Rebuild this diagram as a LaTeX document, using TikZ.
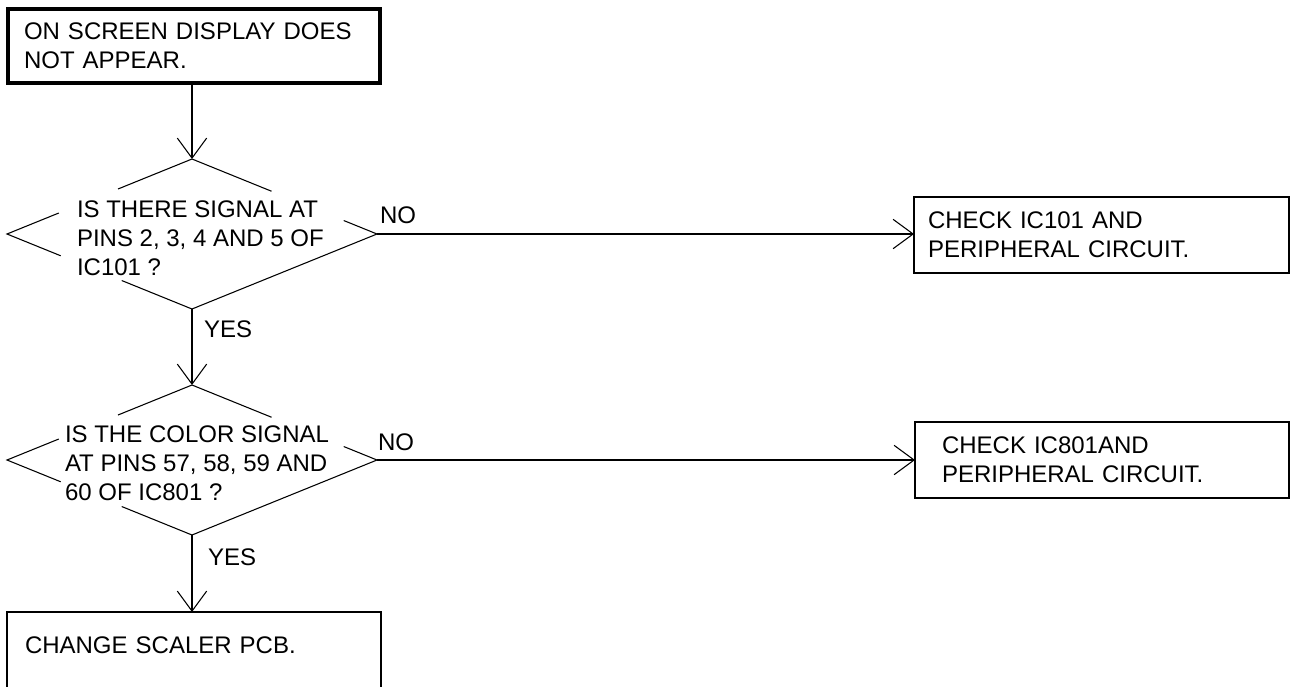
\documentclass[tikz,border=0pt]{standalone}
\usepackage{fontspec}
\setmainfont{Liberation Sans}
\usetikzlibrary{shapes.geometric,arrows.meta,calc}
\def\gapdiamond#1{\draw (#1.north) -- ($(#1.north)!.40!(#1.west)$)
  ($(#1.north)!.72!(#1.west)$) -- (#1.west) -- ($(#1.west)!.29!(#1.south)$)
  ($(#1.west)!.62!(#1.south)$) -- (#1.south) -- (#1.east) -- ($(#1.east)!.18!(#1.north)$)
  ($(#1.east)!.57!(#1.north)$) -- (#1.north);}

\begin{document}
\begin{tikzpicture}[x=0.75pt,y=-0.75pt,line width=0.8pt,
  font=\fontsize{18}{21.75}\selectfont,
  every node/.style={outer sep=0pt},
  flowbox/.style={draw,rectangle,anchor=north west,align=left,inner ysep=0pt},
  decision/.style={diamond,inner sep=0pt,minimum width=277.5pt,minimum height=112.5pt},
  txt/.style={anchor=base west,align=left,inner sep=0pt},
  flow/.style={-{Straight Barb[length=15pt,width=22pt]}}]
  \useasboundingbox (0,0) rectangle (1291,686);
  \clip (0,0) rectangle (1291,686);

  \node (start) [flowbox,line width=3pt,minimum width=279pt,minimum height=55.5pt,
    inner xsep=12pt,text width=255pt] at (8,9) {ON SCREEN DISPLAY DOES\\NOT APPEAR.};

  \node (q1) [decision] at (192,234) {};
  \gapdiamond{q1}
  \node (q1text) [txt] at (77,275) {IS THERE SIGNAL AT\\PINS 2, 3, 4 AND 5 OF\\IC101 ?};

  \node (q2) [decision] at (192,460) {};
  \gapdiamond{q2}
  \node (q2text) [txt] at (65,500) {IS THE COLOR SIGNAL\\AT PINS 57, 58, 59 AND\\60 OF IC801 ?};

  \node (ic1) [flowbox,minimum width=281.25pt,minimum height=57pt,
    inner xsep=10.5pt,text width=260.25pt] at (914,197) {CHECK IC101 AND\\PERIPHERAL CIRCUIT.};
  \node (ic8) [flowbox,minimum width=280.5pt,minimum height=57pt,
    inner xsep=20.25pt,text width=240pt] at (915,422) {CHECK IC801AND\\PERIPHERAL CIRCUIT.};
  \node (scaler) [flowbox,minimum width=280.5pt,inner xsep=13.5pt,text width=253.5pt,
    inner ysep=18.75pt,text depth=60pt] at (7,612) {CHANGE SCALER PCB.};

  \node (no1) [txt] at (380,223) {NO};
  \node (no2) [txt] at (378,450) {NO};
  \node (yes1) [txt] at (204,337) {YES};
  \node (yes2) [txt] at (208,565) {YES};

  \draw[flow] (start.south -| q1.north) -- (q1.north);
  \draw[flow] (q1.east) -- (q1.east -| ic1.west);
  \draw[flow] (q1.south) -- (q2.north);
  \draw[flow] (q2.east) -- (q2.east -| ic8.west);
  \draw[flow] (q2.south) -- (q2.south |- scaler.north);
\end{tikzpicture}
\end{document}
